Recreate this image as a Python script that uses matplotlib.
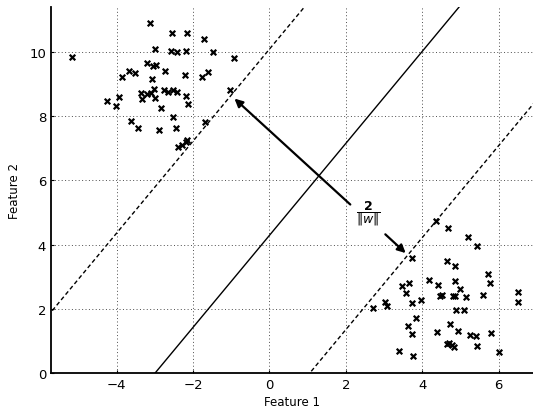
import matplotlib
matplotlib.use("Agg")
import matplotlib.pyplot as plt
import numpy as np

# Upper-left cluster
x1 = [-5.16, -3.13, -2.55, -2.15, -1.71, -2.99, -2.59, -2.41, -2.19, -1.49, -0.93,
      -3.21, -3.04, -2.98, -2.74, -3.69, -3.53, -3.86, -2.21, -1.77, -1.60, -3.07,
      -1.03, -3.95, -4.25, -4.01, -3.36, -3.35, -3.21, -3.11, -3.02, -2.99, -2.76,
      -2.65, -2.53, -2.43, -2.19, -2.14, -2.85, -2.53, -3.62, -3.44, -2.89, -2.45,
      -1.70, -2.40, -2.30, -2.19, -2.15]
y1 = [9.83, 10.88, 10.58, 10.58, 10.39, 10.08, 10.03, 10.00, 10.01, 9.98, 9.80,
      9.64, 9.56, 9.59, 9.40, 9.41, 9.34, 9.22, 9.28, 9.22, 9.36, 9.15,
      8.82, 8.60, 8.46, 8.30, 8.71, 8.53, 8.69, 8.72, 8.84, 8.56, 8.82,
      8.76, 8.82, 8.75, 8.63, 8.37, 8.24, 7.97, 7.84, 7.62, 7.57, 7.62,
      7.82, 7.05, 7.11, 7.20, 7.25]

# Lower-right cluster
x2 = [4.68, 5.20, 5.44, 3.72, 4.35, 4.64, 4.86, 5.71, 5.77, 4.18, 4.40, 4.86,
      4.99, 4.86, 4.80, 4.46, 4.51, 5.14, 5.60, 6.50, 6.52, 3.46, 3.65, 3.57,
      3.74, 3.96, 3.03, 3.08, 2.72, 4.88, 5.09, 3.83, 3.63, 3.74, 4.73, 4.93,
      4.38, 5.25, 5.42, 5.79, 4.64, 4.70, 4.77, 4.84, 5.44, 3.38, 3.77, 6.01]
y2 = [4.51, 4.23, 3.95, 3.58, 4.75, 3.50, 3.35, 3.09, 2.80, 2.91, 2.75, 2.88,
      2.62, 2.39, 2.41, 2.39, 2.43, 2.36, 2.44, 2.54, 2.23, 2.71, 2.80, 2.50,
      2.18, 2.28, 2.23, 2.10, 2.02, 1.97, 1.98, 1.72, 1.48, 1.21, 1.54, 1.32,
      1.27, 1.20, 1.15, 1.24, 0.91, 0.94, 0.88, 0.81, 0.84, 0.70, 0.53, 0.67]

slope = 1.43
intercepts = {"upper": -7.05, "center": -3.0, "lower": 1.05}  # x-intercepts
xticks = [-4, -2, 0, 2, 4, 6]
yticks = [0, 2, 4, 6, 8, 10]

fig = plt.figure(figsize=(5.33, 4.14), dpi=100)
ax = fig.add_axes([51/533, (414-374.3)/414, (533-51)/533, (374.3-8)/414])
ax.set_xlim(-5.72, 6.9)
ax.set_ylim(0, 11.39)

xs = np.linspace(-8, 8, 200)
ax.plot(xs, slope*(xs - intercepts["center"]), color='black', lw=1.0)
ax.plot(xs, slope*(xs - intercepts["upper"]), color='black', lw=1.0, ls=(0, (3, 2)))
ax.plot(xs, slope*(xs - intercepts["lower"]), color='black', lw=1.0, ls=(0, (3, 2)))

ax.scatter(x1, y1, marker='x', color='black', s=16, linewidths=1.6, zorder=3)
ax.scatter(x2, y2, marker='x', color='black', s=16, linewidths=1.6, zorder=3)

ax.annotate('', xy=(-0.97, 8.6), xytext=(2.17, 5.19),
            arrowprops=dict(arrowstyle='-|>', color='black', lw=1.6, mutation_scale=12))
ax.annotate('', xy=(3.62, 3.68), xytext=(2.98, 4.38),
            arrowprops=dict(arrowstyle='-|>', color='black', lw=1.6, mutation_scale=12))
ax.text(2.58, 5.0, r'$\dfrac{\mathbf{2}}{\|w\|}$', fontsize=9, ha='center', va='center')

ax.set_xticks(xticks)
ax.set_yticks(yticks)
ax.set_xticklabels([f'{t}'.replace('-', '\u2212') for t in xticks])
ax.grid(True, color='0.3', ls=(0, (1, 2.5)), lw=0.7)
ax.set_axisbelow(True)
for s in ['top', 'right']:
    ax.spines[s].set_visible(False)
ax.spines['left'].set_linewidth(1.3)
ax.spines['bottom'].set_linewidth(1.3)
ax.tick_params(labelsize=9.5, length=2, width=0.8, direction='in')
ax.set_xlabel('Feature 1', fontsize=8.5, labelpad=3)
ax.set_ylabel('Feature 2', fontsize=8.5, labelpad=6)

fig.savefig('out.png', dpi=100)
